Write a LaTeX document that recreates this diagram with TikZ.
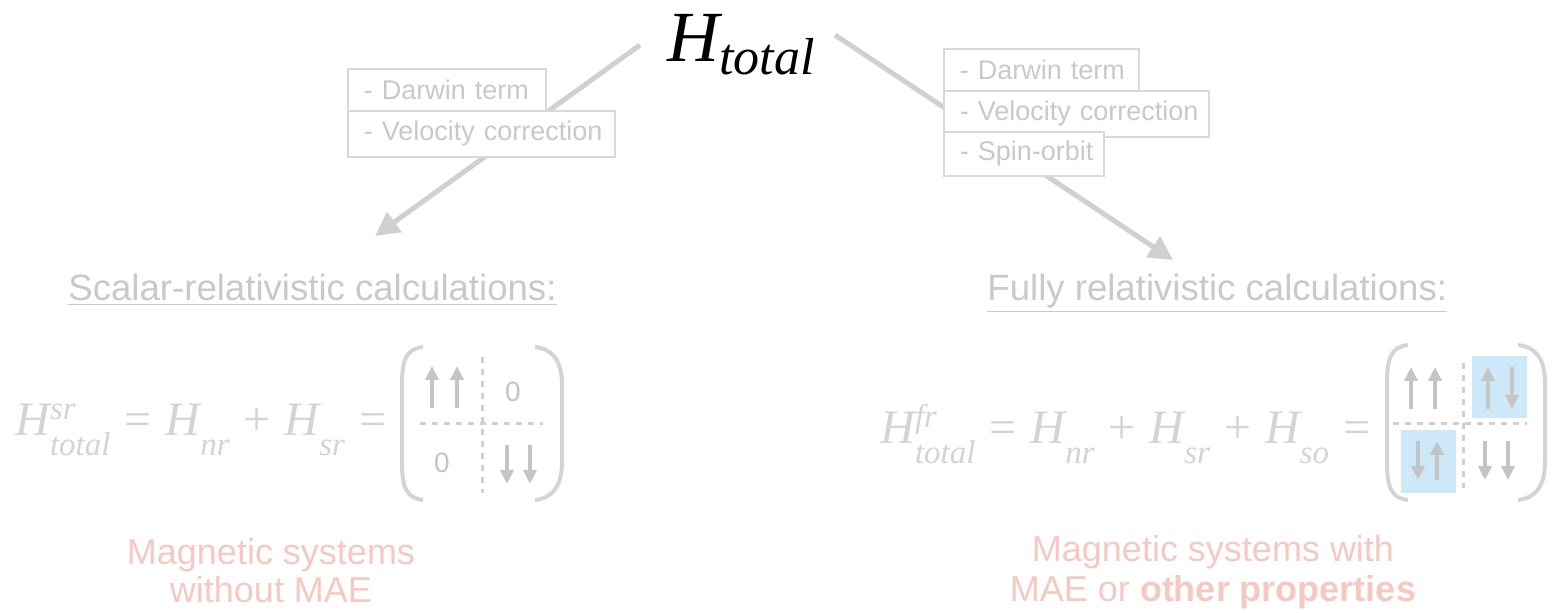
\documentclass[tikz,border=0pt]{standalone}
\usepackage{fontspec}
\setmainfont{Liberation Sans}
\newfontfamily\tms{Liberation Serif}
\usetikzlibrary{arrows.meta}
\definecolor{boxtxt}{HTML}{C9C9C9}
\definecolor{boxline}{HTML}{D9D9D9}
\definecolor{arrowgray}{HTML}{D0D0D0}
\definecolor{eqgray}{HTML}{D4D4D4}
\definecolor{matgray}{HTML}{C4C4C4}
\definecolor{salmon}{HTML}{F5C9C1}
\definecolor{lightblue}{HTML}{CDE8F9}
\newcommand\subsz{\fontsize{16.5}{18}\selectfont}
\newcommand\Hs[2]{{\itshape H}\rlap{\raisebox{8pt}{\subsz\itshape #1}}\raisebox{-10pt}{\subsz\itshape #2}}
\newcommand\op[1]{\hspace{7pt}#1\hspace{7pt}}
\tikzset{
  termbox/.style={draw=boxline, line width=0.8pt, fill=white, text=boxtxt,
    font=\fontsize{13.5}{15}\selectfont, anchor=north west, align=left,
    inner xsep=8pt, inner ysep=0pt},
  bigarrow/.style={draw=arrowgray, line width=2.5pt, -{Triangle[length=12pt,width=12pt]}},
  header/.style={text=boxtxt, font=\fontsize{18.3}{20}\selectfont, anchor=base west, inner sep=0pt},
  equation/.style={text=eqgray, font=\tms\fontsize{24}{26}\selectfont, anchor=base west, inner sep=0pt},
  paren/.style={draw=eqgray, line width=2pt},
  divider/.style={draw=matgray!80, line width=1.5pt, dash pattern=on 3pt off 3pt},
  spinarrow/.style={draw=matgray, line width=2pt, -{Triangle[length=7pt,width=6.5pt]}},
  zero/.style={text=matgray, font=\fontsize{14}{16}\selectfont, inner sep=0pt},
  outcome/.style={text=salmon, font=\fontsize{18}{19}\selectfont, align=center, anchor=base, inner sep=0pt},
}
\begin{document}
\begin{tikzpicture}[x=0.5pt,y=-0.5pt]
\path[use as bounding box] (0,0) rectangle (1552,613);

% title
\node[anchor=base west, inner sep=0pt, font=\tms\fontsize{36}{40}\selectfont] (htot) at (667,62)
  {\itshape H\raisebox{-6.5pt}{\fontsize{26}{28}\selectfont\itshape total}};

% main arrows
\coordinate (lstart) at (640,45);
\coordinate (ltip) at (375,236);
\coordinate (rstart) at (835,35);
\coordinate (rtip) at (1173,260);
\draw[bigarrow] (lstart) -- (ltip);
\draw[bigarrow] (rstart) -- (rtip);

% left term boxes
\node[termbox, minimum height=21pt, text width=83pt] (ld) at (347,68) {\mbox{- Darwin term}};
\node[termbox, minimum height=23pt, text width=117.5pt] (lv) at (347,110) {\mbox{- Velocity correction}};
% right term boxes
\node[termbox, minimum height=21pt, text width=81.5pt] (rd) at (943,48) {\mbox{- Darwin term}};
\node[termbox, minimum height=23pt, text width=116.5pt] (rv) at (943,90) {\mbox{- Velocity correction}};
\node[termbox, minimum height=22pt, text width=64pt] (rs) at (943,131) {\mbox{- Spin-orbit}};

% headers
\node[header] (lhead) at (68,301) {\underline{Scalar-relativistic calculations:}};
\node[header] (rhead) at (987,301) {\underline{Fully relativistic calculations:}};

% equations
\node[equation] (leq) at (15,436)
  {\Hs{sr}{total}\op{=}\Hs{}{nr}\op{+}\Hs{}{sr}\op{=}};
\node[equation] (req) at (880,444)
  {\Hs{fr}{total}\op{=}\Hs{}{nr}\op{+}\Hs{}{sr}\op{+}\Hs{}{so}\op{=}};

% left matrix
\draw[paren] (423,347) .. controls (406,349) and (402,360) .. (402,385) -- (402,462) .. controls (402,487) and (406,498) .. (423,500);
\draw[paren] (535,347) .. controls (552,349) and (562,360) .. (562,385) -- (562,462) .. controls (562,487) and (552,498) .. (535,500);
\draw[divider] (482,357) -- (482,493);
\draw[divider] (420,424) -- (543,424);
\draw[spinarrow] (432,408) -- (432,366);
\draw[spinarrow] (457,408) -- (457,366);
\draw[spinarrow] (507,445) -- (507,484);
\draw[spinarrow] (530,445) -- (530,484);
\node[zero] (lz1) at (513,392) {0};
\node[zero] (lz2) at (442,463) {0};

% right matrix
\fill[lightblue] (1472,356) rectangle (1527,418);
\fill[lightblue] (1401,430) rectangle (1456,493);
\draw[paren] (1408,345) .. controls (1391,347) and (1387,358) .. (1387,383) -- (1387,462) .. controls (1387,487) and (1391,498) .. (1408,500);
\draw[paren] (1518,345) .. controls (1535,347) and (1545,358) .. (1545,383) -- (1545,462) .. controls (1545,487) and (1535,498) .. (1518,500);
\draw[divider] (1463,363) -- (1463,488);
\draw[divider] (1393,424) -- (1527,424);
\draw[spinarrow] (1411,409) -- (1411,367);
\draw[spinarrow] (1435,409) -- (1435,367);
\draw[spinarrow] (1488,409) -- (1488,367);
\draw[spinarrow] (1512,367) -- (1512,409);
\draw[spinarrow] (1418,441) -- (1418,480);
\draw[spinarrow] (1437,480) -- (1437,441);
\draw[spinarrow] (1485,441) -- (1485,480);
\draw[spinarrow] (1508,441) -- (1508,480);

% outcomes
\node[outcome] (lout) at (271,603) {Magnetic systems\\without MAE};
\node[outcome, font=\fontsize{18}{20}\selectfont] (rout) at (1213,602) {Magnetic systems with\\MAE or \textbf{other properties}};
\end{tikzpicture}
\end{document}
